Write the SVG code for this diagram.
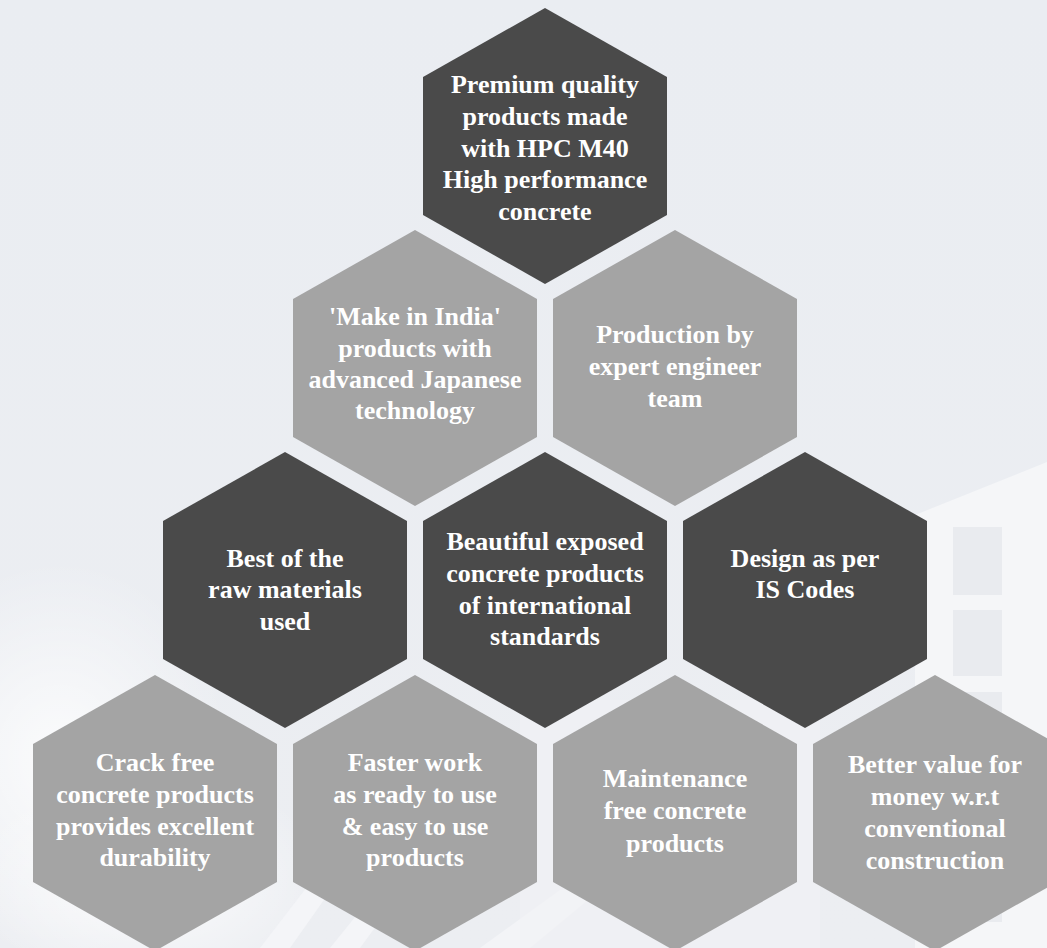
<svg xmlns="http://www.w3.org/2000/svg" xmlns:xlink="http://www.w3.org/1999/xlink" width="1047" height="948" viewBox="0 0 1047 948">
  <style>
    .dark { fill: #4a4a4a; }
    .light { fill: #a4a4a4; }
    .lbl { font-family: "Liberation Serif", "Times New Roman", serif; font-weight: bold; font-size: 26px; fill: #ffffff; text-anchor: middle; }
    .win { fill: #e9ebef; }
    .bldg { fill: #f5f6f8; }
  </style>
  <defs>
    <polygon id="hex" points="0,-138 122,-69 122,69 0,138 -122,69 -122,-69"/>
    <radialGradient id="cloud" cx="0.5" cy="0.5" r="0.5">
      <stop offset="0" stop-color="#ffffff" stop-opacity="0.8"/>
      <stop offset="1" stop-color="#ffffff" stop-opacity="0"/>
    </radialGradient>
    <linearGradient id="bg" x1="0" y1="0" x2="0" y2="1">
      <stop offset="0" stop-color="#eaedf2"/>
      <stop offset="1" stop-color="#eceef2"/>
    </linearGradient>
  </defs>

  <!-- background -->
  <g id="background">
    <rect x="0" y="0" width="1047" height="948" fill="url(#bg)"/>
    <ellipse cx="60" cy="760" rx="170" ry="200" fill="url(#cloud)"/>
    <ellipse cx="150" cy="880" rx="180" ry="110" fill="url(#cloud)"/>
    <polygon class="bldg" points="915,515 1047,462 1047,948 915,948"/>
    <rect class="win" x="953" y="527" width="49" height="68"/>
    <rect class="win" x="953" y="610" width="49" height="66"/>
    <rect class="win" x="953" y="692" width="49" height="66"/>
    <rect class="win" x="953" y="774" width="49" height="66"/>
    <rect class="win" x="953" y="856" width="49" height="66"/>
    <polygon points="260,948 320,870 345,870 290,948" fill="#f4f5f8"/>
    <polygon points="330,948 385,880 410,880 360,948" fill="#f4f5f8"/>
    <polygon points="480,948 560,890 600,890 530,948" fill="#f3f4f7"/>
    <rect x="520" y="700" width="300" height="248" fill="#f1f2f5" opacity="0.6"/>
  </g>

  <g id="connectors"></g>

  <g id="n1">
    <use xlink:href="#hex" href="#hex" x="545" y="146" class="dark"/>
    <text class="lbl" x="545" y="93">Premium quality</text>
    <text class="lbl" x="545" y="125">products made</text>
    <text class="lbl" x="545" y="157">with HPC M40</text>
    <text class="lbl" x="545" y="188">High performance</text>
    <text class="lbl" x="545" y="220">concrete</text>
  </g>

  <g id="n2">
    <use xlink:href="#hex" href="#hex" x="415" y="368" class="light"/>
    <text class="lbl" x="415" y="325">'Make in India'</text>
    <text class="lbl" x="415" y="357">products with</text>
    <text class="lbl" x="415" y="388">advanced Japanese</text>
    <text class="lbl" x="415" y="419">technology</text>
  </g>

  <g id="n3">
    <use xlink:href="#hex" href="#hex" x="675" y="368" class="light"/>
    <text class="lbl" x="675" y="343">Production by</text>
    <text class="lbl" x="675" y="375">expert engineer</text>
    <text class="lbl" x="675" y="407">team</text>
  </g>

  <g id="n4">
    <use xlink:href="#hex" href="#hex" x="285" y="590" class="dark"/>
    <text class="lbl" x="285" y="567">Best of the</text>
    <text class="lbl" x="285" y="598">raw materials</text>
    <text class="lbl" x="285" y="630">used</text>
  </g>

  <g id="n5">
    <use xlink:href="#hex" href="#hex" x="545" y="590" class="dark"/>
    <text class="lbl" x="545" y="550">Beautiful exposed</text>
    <text class="lbl" x="545" y="582">concrete products</text>
    <text class="lbl" x="545" y="614">of international</text>
    <text class="lbl" x="545" y="645">standards</text>
  </g>

  <g id="n6">
    <use xlink:href="#hex" href="#hex" x="805" y="590" class="dark"/>
    <text class="lbl" x="805" y="567">Design as per</text>
    <text class="lbl" x="805" y="598">IS Codes</text>
  </g>

  <g id="n7">
    <use xlink:href="#hex" href="#hex" x="155" y="813" class="light"/>
    <text class="lbl" x="155" y="771">Crack free</text>
    <text class="lbl" x="155" y="803">concrete products</text>
    <text class="lbl" x="155" y="835">provides excellent</text>
    <text class="lbl" x="155" y="866">durability</text>
  </g>

  <g id="n8">
    <use xlink:href="#hex" href="#hex" x="415" y="813" class="light"/>
    <text class="lbl" x="415" y="771">Faster work</text>
    <text class="lbl" x="415" y="803">as ready to use</text>
    <text class="lbl" x="415" y="835">&amp; easy to use</text>
    <text class="lbl" x="415" y="866">products</text>
  </g>

  <g id="n9">
    <use xlink:href="#hex" href="#hex" x="675" y="813" class="light"/>
    <text class="lbl" x="675" y="787">Maintenance</text>
    <text class="lbl" x="675" y="819">free concrete</text>
    <text class="lbl" x="675" y="852">products</text>
  </g>

  <g id="n10">
    <use xlink:href="#hex" href="#hex" x="935" y="813" class="light"/>
    <text class="lbl" x="935" y="773">Better value for</text>
    <text class="lbl" x="935" y="805">money w.r.t</text>
    <text class="lbl" x="935" y="837">conventional</text>
    <text class="lbl" x="935" y="869">construction</text>
  </g>
</svg>
